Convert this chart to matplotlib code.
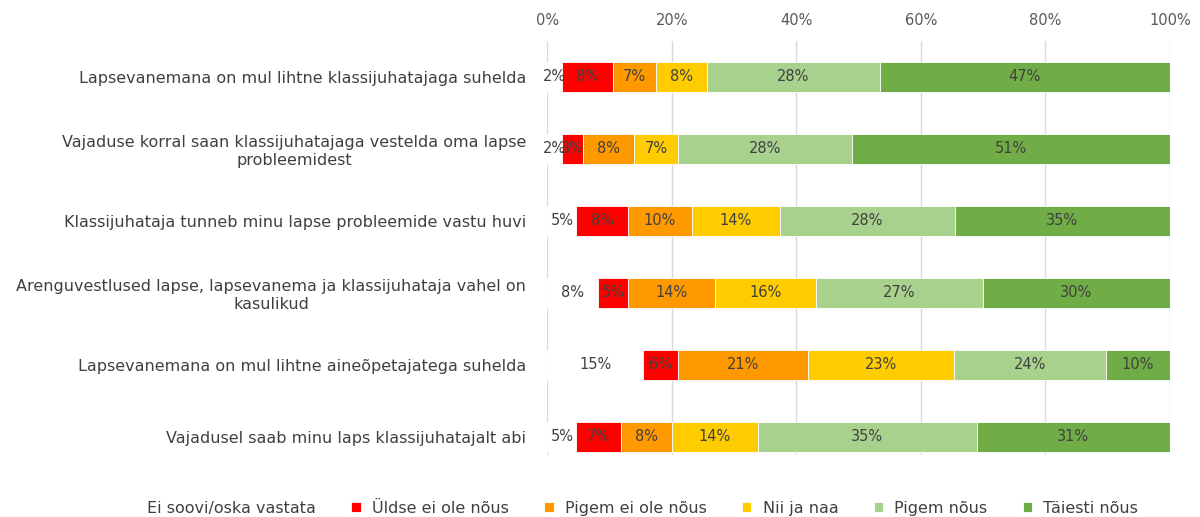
import matplotlib
matplotlib.use("Agg")
import matplotlib.pyplot as plt
import numpy as np

plt.rcParams['font.family'] = ['DejaVu Sans']

categories = [
    "Lapsevanemana on mul lihtne klassijuhatajaga suhelda",
    "Vajaduse korral saan klassijuhatajaga vestelda oma lapse\nprobleemidest",
    "Klassijuhataja tunneb minu lapse probleemide vastu huvi",
    "Arenguvestlused lapse, lapsevanema ja klassijuhataja vahel on\nkasulikud",
    "Lapsevanemana on mul lihtne aineõpetajatega suhelda",
    "Vajadusel saab minu laps klassijuhatajalt abi",
]
series_names = ["Ei soovi/oska vastata", "Üldse ei ole nõus", "Pigem ei ole nõus",
                "Nii ja naa", "Pigem nõus", "Täiesti nõus"]
ei_soovi = [2.3, 2.4, 4.7, 8.2, 15.4, 4.7]
yldse_ei = [8.2, 3.4, 8.2, 4.7, 5.6, 7.1]
pigem_ei = [6.9, 8.1, 10.4, 14.0, 20.9, 8.2]
nii_naa = [8.2, 7.1, 14.0, 16.2, 23.4, 13.8]
pigem_jah = [27.8, 27.9, 28.1, 26.8, 24.4, 35.2]
taiesti = [46.6, 51.1, 34.6, 30.1, 10.3, 31.0]

colors = ["#ffffff", "#ff0000", "#ff9900", "#ffcc00", "#a9d18e", "#70ad47"]
data = [ei_soovi, yldse_ei, pigem_ei, nii_naa, pigem_jah, taiesti]

fig = plt.figure(figsize=(12, 5.17), dpi=100)
ax = fig.add_axes([0.456, 0.12, 0.519, 0.801])

y = np.arange(len(categories))
left = np.zeros(len(categories))
for name, vals, col in zip(series_names, data, colors):
    vals = np.array(vals)
    ax.barh(y, vals, left=left, height=0.42, color=col, label=name,
            edgecolor="white", linewidth=0.6)
    for yi, l, v in zip(y, left, vals):
        ax.text(l + v / 2, yi, f"{v:.0f}%", ha="center", va="center",
                fontsize=10.5, color="#404040")
    left += vals

ax.set_xlim(0, 100)
ax.set_ylim(5.25, -0.5)
ax.set_yticks(y)
ax.set_yticklabels(categories, fontsize=11.5, color="#404040")
for t in ax.get_yticklabels():
    t.set_multialignment("center")
ax.xaxis.tick_top()
ax.set_xticks(np.arange(0, 101, 20))
ax.set_xticklabels([f"{v}%" for v in range(0, 101, 20)], fontsize=10.5, color="#595959")
ax.tick_params(length=0, pad=9)
ax.tick_params(axis="y", pad=15)
ax.grid(axis="x", color="#d9d9d9", linewidth=1)
ax.set_axisbelow(True)
for s in ax.spines.values():
    s.set_visible(False)

leg = fig.legend(loc="lower center", bbox_to_anchor=(0.527, -0.025), ncol=6, frameon=False,
                 fontsize=11.5, handlelength=0.6, handleheight=0.6, columnspacing=2.2,
                 handletextpad=0.7)
for t in leg.get_texts():
    t.set_color("#404040")

fig.savefig("out.png", dpi=100)
